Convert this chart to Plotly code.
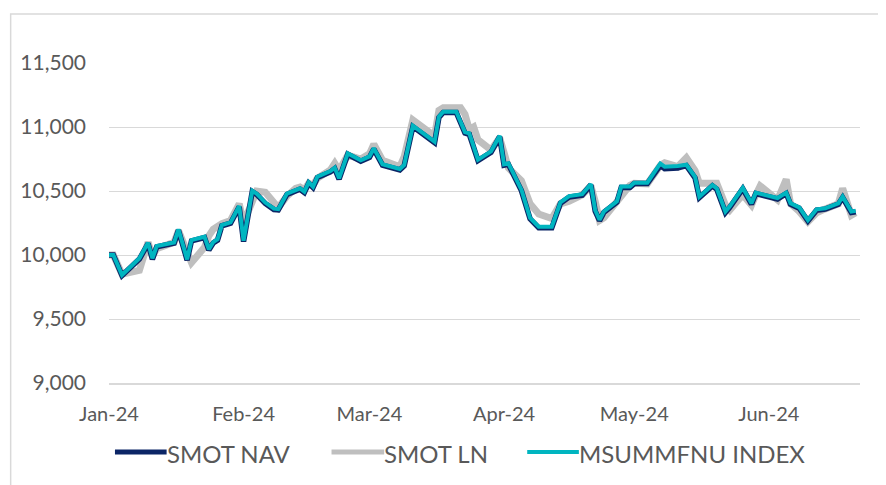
import plotly.graph_objects as go

dates = ["2024-01-01","2024-01-02","2024-01-04","2024-01-08","2024-01-10","2024-01-11","2024-01-12",
         "2024-01-15","2024-01-16","2024-01-17","2024-01-19","2024-01-20","2024-01-23","2024-01-24",
         "2024-01-25","2024-01-26","2024-01-27","2024-01-29","2024-01-31","2024-02-01","2024-02-03",
         "2024-02-04","2024-02-06","2024-02-08","2024-02-09","2024-02-11","2024-02-13","2024-02-14",
         "2024-02-15","2024-02-16","2024-02-17","2024-02-18","2024-02-21","2024-02-22","2024-02-23",
         "2024-02-25","2024-02-28","2024-03-01","2024-03-02","2024-03-04","2024-03-08","2024-03-09",
         "2024-03-11","2024-03-16","2024-03-17","2024-03-18","2024-03-21","2024-03-22","2024-03-23",
         "2024-03-24","2024-03-25","2024-03-26","2024-03-29","2024-03-31","2024-04-01","2024-04-02",
         "2024-04-05","2024-04-07","2024-04-09","2024-04-12","2024-04-14","2024-04-16","2024-04-19",
         "2024-04-21","2024-04-22","2024-04-23","2024-04-24","2024-04-27","2024-04-28","2024-04-30",
         "2024-05-01","2024-05-04","2024-05-07","2024-05-08","2024-05-11","2024-05-13","2024-05-15",
         "2024-05-16","2024-05-19","2024-05-20","2024-05-22","2024-05-23","2024-05-26","2024-05-28",
         "2024-05-29","2024-05-30","2024-06-03","2024-06-05","2024-06-06","2024-06-08","2024-06-10",
         "2024-06-12","2024-06-14","2024-06-17","2024-06-18","2024-06-20","2024-06-21"]

msummfnu_index = [10000,10000,9844,9975,10096,9974,10070,
                  10090,10098,10200,9966,10117,10143,10045,
                  10100,10123,10234,10255,10383,10112,10502,
                  10480,10410,10362,10359,10480,10505,10521,
                  10495,10568,10534,10612,10656,10682,10599,
                  10794,10740,10770,10834,10709,10672,10703,
                  11010,10885,11081,11120,11120,11030,10960,
                  10950,10850,10745,10810,10932,10709,10716,
                  10510,10290,10221,10221,10412,10460,10475,
                  10555,10350,10275,10340,10420,10535,10535,
                  10565,10565,10715,10690,10695,10705,10610,
                  10456,10547,10521,10339,10380,10525,10404,
                  10487,10477,10445,10487,10404,10372,10273,
                  10357,10365,10404,10456,10339,10346]

smot_nav = [10000,10000,9840,9968,10090,9966,10064,
            10084,10092,10194,9960,10110,10136,10038,
            10094,10116,10228,10248,10376,10105,10495,
            10473,10403,10355,10352,10473,10498,10514,
            10488,10561,10527,10605,10649,10675,10592,
            10787,10733,10763,10827,10702,10665,10696,
            11003,10878,11074,11113,11113,11023,10953,
            10943,10843,10738,10803,10925,10702,10709,
            10503,10283,10212,10212,10405,10453,10468,
            10548,10343,10268,10333,10413,10528,10528,
            10558,10558,10700,10675,10680,10698,10603,
            10449,10540,10514,10332,10373,10518,10397,
            10480,10470,10438,10480,10397,10365,10266,
            10350,10358,10397,10449,10332,10338]

smot_ln = [10000,10000,9850,9880,10100,9990,10050,
           10085,10100,10190,10010,9940,10060,10150,
           10200,10230,10245,10270,10400,10250,10440,
           10500,10490,10420,10370,10460,10520,10530,
           10510,10560,10545,10600,10665,10716,10660,
           10780,10750,10790,10865,10740,10690,10768,
           11055,10930,11130,11150,11150,11150,11100,
           10980,11000,10900,10820,10915,10800,10680,
           10580,10400,10320,10285,10400,10420,10470,
           10540,10420,10270,10290,10420,10460,10545,
           10560,10555,10700,10720,10690,10760,10660,
           10560,10560,10560,10390,10350,10470,10390,
           10470,10540,10430,10590,10400,10340,10260,
           10330,10360,10400,10520,10310,10330]

y_ticks = [9000, 9500, 10000, 10500, 11000, 11500]

series_names = ["SMOT NAV", "SMOT LN", "MSUMMFNU INDEX"]
series_colors = ["#0B2566", "#BFBFBF", "#00B5C0"]

fig = go.Figure()
fig.add_trace(go.Scatter(x=dates, y=smot_ln, name=series_names[1], mode="lines",
                         line=dict(color=series_colors[1], width=7), showlegend=False))
fig.add_trace(go.Scatter(x=dates, y=smot_nav, name=series_names[0], mode="lines",
                         line=dict(color=series_colors[0], width=5.5), showlegend=False))
fig.add_trace(go.Scatter(x=dates, y=msummfnu_index, name=series_names[2], mode="lines",
                         line=dict(color=series_colors[2], width=4), showlegend=False))

# page body has an 8px margin; screen coords below are converted to paper coords
OFF = 8
W, H = 886 - OFF, 485 - OFF
L, R, T, B = 104, 860, 63, 383   # plot area in screen px
pw, ph = R - L, B - T

def px(x):
    return (x - L) / pw

def py(y):
    return (B - y) / ph

shapes = [dict(type="rect", xref="paper", yref="paper",
               x0=px(5), x1=px(900), y0=py(500), y1=py(14),
               line=dict(color="#D9D9D9", width=1.5), fillcolor="rgba(0,0,0,0)", layer="below")]
annotations = []
leg_y = 452
leg_lines = [(110, 162), (328, 381), (525, 577)]
leg_text_x = [160, 379, 575]
leg_widths = [5, 5, 4]
for i in range(3):
    x0, x1 = leg_lines[i]
    shapes.append(dict(type="line", xref="paper", yref="paper",
                       x0=px(x0), x1=px(x1), y0=py(leg_y), y1=py(leg_y),
                       line=dict(color=series_colors[i], width=leg_widths[i])))
    annotations.append(dict(xref="paper", yref="paper", x=px(leg_text_x[i]), y=py(leg_y + 1),
                            xanchor="left", yanchor="middle", showarrow=False,
                            text=series_names[i], font=dict(size=24, color="#595959")))

fig.update_layout(
    width=W, height=H,
    margin=dict(l=L - OFF, r=W - (R - OFF), t=T - OFF, b=H - (B - OFF)),
    paper_bgcolor="white", plot_bgcolor="white",
    font=dict(family="Lato", color="#595959"),
    showlegend=False,
    shapes=shapes,
    annotations=annotations,
)
fig.update_xaxes(type="date", range=["2024-01-01", "2024-06-22"], dtick="M1",
                 tick0="2024-01-01", tickformat="%b-%y", showgrid=False,
                 showline=True, linecolor="#D9D9D9", linewidth=1.5,
                 tickfont=dict(size=20, color="#595959"), ticks="", ticklabelstandoff=12)
fig.update_yaxes(range=[9000, 11500], tickvals=y_ticks, tickformat=",",
                 showgrid=True, gridcolor="#D9D9D9", gridwidth=1.3, zeroline=False,
                 tickfont=dict(size=21, color="#595959"), ticks="", ticklabelstandoff=22)

fig.write_html("out.html")
